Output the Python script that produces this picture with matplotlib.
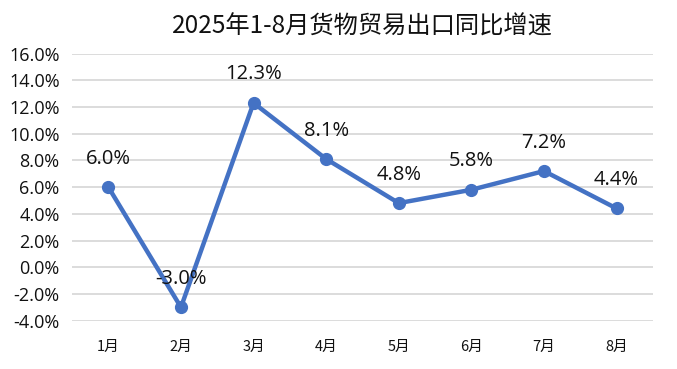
import matplotlib
matplotlib.use("Agg")
import matplotlib.pyplot as plt
from matplotlib.ticker import FuncFormatter, MultipleLocator

plt.rcParams['font.family'] = ['Noto Sans CJK SC', 'DejaVu Sans']

months = ["1月", "2月", "3月", "4月", "5月", "6月", "7月", "8月"]
growth = [6.0, -3.0, 12.3, 8.1, 4.8, 5.8, 7.2, 4.4]
title = "2025年1-8月货物贸易出口同比增速"

fig = plt.figure(figsize=(6.77, 3.69), dpi=100)
ax = fig.add_axes([0.1064, 0.131, 0.858, 0.724])

x = list(range(len(months)))
ax.plot(x, growth, color="#4472C4", linewidth=3.2, marker="o", markersize=8.5, zorder=3)
for xi, v in zip(x, growth):
    ax.annotate(f"{v:.1f}%", (xi, v), xytext=(0, 20.5), textcoords="offset points",
                ha="center", va="center", fontsize=14.5, color="#111111",
                family=['Open Sans', 'DejaVu Sans'])

ax.set_xlim(-0.5, len(months) - 0.5)
ax.set_ylim(-4, 16)
ax.yaxis.set_major_locator(MultipleLocator(2))
ax.yaxis.set_major_formatter(FuncFormatter(lambda v, p: f"{v:.1f}%"))
ax.set_xticks(x)
ax.set_xticklabels(months, fontsize=10.5)
for lab in ax.get_yticklabels():
    lab.set_fontsize(13)
    lab.set_family(['Open Sans', 'DejaVu Sans'])
ax.tick_params(axis='both', length=0, colors="#111111")
ax.tick_params(axis='x', pad=14)
ax.tick_params(axis='y', pad=9)
ax.grid(axis='y', color="#d9d9d9", linewidth=1.3)
ax.set_axisbelow(True)
for s in ax.spines.values():
    s.set_visible(False)

fig.text(0.5355, 0.927, title, ha="center", va="center", fontsize=17.5, color="#111111")
fig.savefig("out.png", dpi=100)
